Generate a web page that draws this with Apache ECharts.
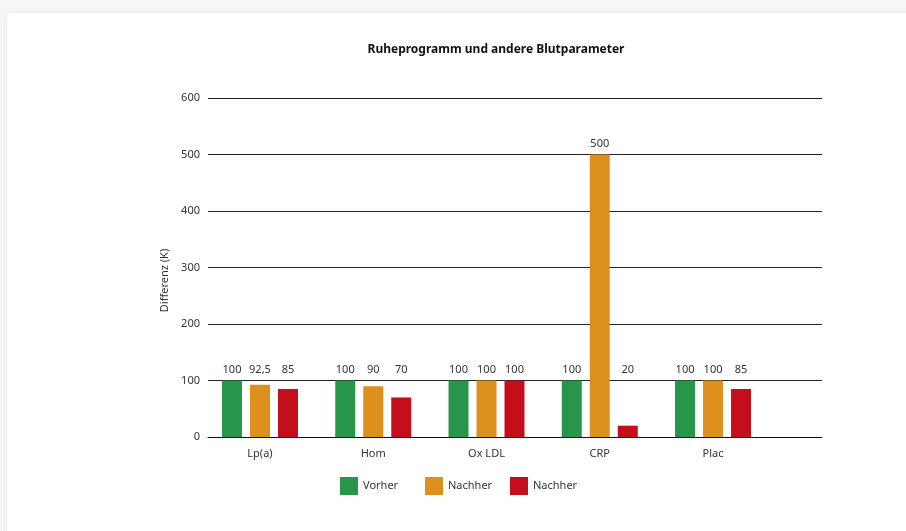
<!DOCTYPE html>
<html>
<head>
<meta charset="utf-8">
<script src="https://cdn.jsdelivr.net/npm/echarts@6/dist/echarts.min.js"></script>
<style>
  html, body {
    margin: 0;
    padding: 0;
    background: #f6f6f6;
  }
  .card {
    position: absolute;
    left: 7px;
    top: 13px;
    width: 960px;
    height: 560px;
    background: #fff;
    box-shadow: 0 0 6px rgba(0, 0, 0, 0.06);
  }
  #chart {
    position: absolute;
    left: 0;
    top: 0;
    width: 906px;
    height: 531px;
  }
</style>
</head>
<body>
<div class="card"></div>
<div id="chart"></div>
<script>
const categories = ["Lp(a)", "Hom", "Ox LDL", "CRP", "Plac"];
const vorher = [100, 100, 100, 100, 100];
const nachher1 = [92.5, 90, 100, 500, 100];
const nachher2 = [85, 70, 100, 20, 85];
const yTicks = [0, 100, 200, 300, 400, 500, 600];
const seriesNames = ["Vorher", "Nachher", "Nachher "];

const colors = ["#27964a", "#dd901e", "#c40e1c"];
const font = "Noto Sans";

const chart = echarts.init(document.getElementById("chart"));

function fmt(v) {
  return String(v).replace(".", ",");
}

function buildSeries(offsets) {
  const lists = [vorher, nachher1, nachher2];
  return lists.map((list, s) => ({
    name: seriesNames[s],
    type: "bar",
    barWidth: 20,
    barGap: "40%",
    itemStyle: { color: colors[s] },
    label: {
      show: true,
      position: "top",
      distance: 5,
      color: "#333",
      fontSize: 11,
      fontFamily: font,
      formatter: (p) => fmt(p.value[1]),
    },
    data: list.map((v, i) => ({
      value: [i, v],
      label: offsets ? { offset: [0, offsets[s][i]] } : undefined,
    })),
  }));
}

// one legend per item so they sit on a fixed 85px step
const legends = seriesNames.map((name, i) => ({
  left: 340 + i * 85,
  top: 477,
  padding: 0,
  icon: "rect",
  itemWidth: 18,
  itemHeight: 18,
  itemStyle: { borderWidth: 0 },
  formatter: (n) => n.trim(),
  textStyle: {
    fontFamily: font,
    fontSize: 11,
    color: "#333",
  },
  data: [name],
}));

const option = {
  animation: false,
  title: {
    text: "Ruheprogramm und andere Blutparameter",
    left: 491,
    textAlign: "center",
    top: 39,
    textStyle: {
      fontFamily: font,
      fontSize: 12,
      fontWeight: "bold",
      color: "#111",
    },
  },
  legend: legends,
  grid: {
    top: 98,
    bottom: 94,
    left: 208,
    right: 84,
    containLabel: false,
  },
  xAxis: {
    type: "value",
    min: -0.459,
    max: 4.962,
    splitLine: { show: false },
    axisTick: { show: false },
    axisLine: { show: true, lineStyle: { color: "#111", width: 1 } },
    axisLabel: {
      customValues: [0, 1, 2, 3, 4],
      formatter: (v) => categories[Math.round(v)],
      margin: 11,
      color: "#333",
      fontSize: 11,
      fontFamily: font,
    },
  },
  yAxis: {
    type: "value",
    min: yTicks[0],
    max: yTicks[yTicks.length - 1],
    interval: 100,
    name: "Differenz (K)",
    nameLocation: "middle",
    nameGap: 38,
    nameMoveOverlap: false,
    nameTextStyle: {
      fontFamily: font,
      fontSize: 11,
      color: "#333",
      // pushes the rotated name a bit lower, as in the original
      padding: [0, 26, 0, 0],
    },
    axisLine: { show: false },
    axisTick: { show: false },
    axisLabel: {
      margin: 8,
      color: "#333",
      fontSize: 11,
      fontFamily: font,
    },
    splitLine: { show: true, lineStyle: { color: "#222", width: 1 } },
  },
  series: buildSeries(null),
};

chart.setOption(option);

// labels of short bars sit on the 100 line like in the original
const base = chart.convertToPixel({ gridIndex: 0 }, [0, 100])[1];
const offsets = [vorher, nachher1, nachher2].map((list) =>
  list.map((v, i) => {
    if (v >= 100) return 0;
    const py = chart.convertToPixel({ gridIndex: 0 }, [i, v])[1];
    return base - py;
  })
);
chart.setOption({ series: buildSeries(offsets) });
</script>
</body>
</html>
